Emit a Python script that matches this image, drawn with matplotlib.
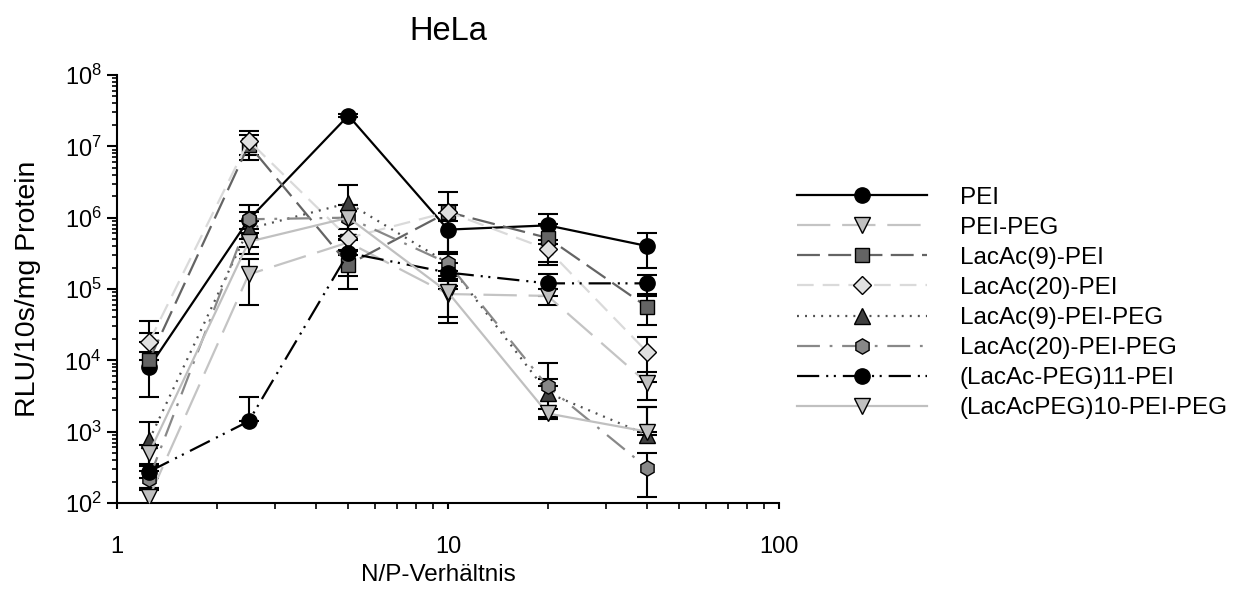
import matplotlib
matplotlib.use("Agg")
import matplotlib.pyplot as plt
import numpy as np
from matplotlib import rcParams

rcParams['font.family'] = ['Liberation Sans', 'DejaVu Sans']
rcParams['lines.scale_dashes'] = False

# N/P ratios
np_ratio = [1.25, 2.5, 5, 10, 20, 40]

series_names = [
    "PEI", "PEI-PEG", "LacAc(9)-PEI", "LacAc(20)-PEI",
    "LacAc(9)-PEI-PEG", "LacAc(20)-PEI-PEG",
    "(LacAc-PEG)11-PEI", "(LacAcPEG)10-PEI-PEG",
]

# luciferase activity (RLU/10s/mg protein) and standard deviations
pei = [8.0e3, 9.4e5, 2.7e7, 6.8e5, 7.8e5, 4.0e5]
pei_err = [4.9e3, 5.5e5, 1.0e6, 5.0e5, 3.5e5, 2.0e5]

pei_peg = [1.2e2, 1.6e5, 4.5e5, 8.5e4, 8.0e4, 4.8e3]
pei_peg_err = [30, 1.0e5, 1.0e5, 5.2e4, 2.0e4, 2.0e3]

lac9_pei = [1.0e4, 1.05e7, 2.2e5, 1.2e6, 5.2e5, 5.6e4]
lac9_pei_err = [1.4e4, 4.0e6, 1.2e5, 3.0e5, 3.0e5, 2.5e4]

lac20_pei = [1.8e4, 1.2e7, 5.2e5, 1.2e6, 3.6e5, 1.3e4]
lac20_pei_err = [1.8e4, 4.5e6, 1.8e5, 1.1e6, 1.2e5, 8.0e3]

lac9_pei_peg = [7.6e2, 7.0e5, 1.6e6, 2.3e5, 3.5e3, 9.0e2]
lac9_pei_peg_err = [6.0e2, 2.0e5, 1.3e6, 1.0e5, 1.9e3, 1.3e3]

lac20_pei_peg = [2.2e2, 9.5e5, 1.0e6, 2.3e5, 4.3e3, 3.1e2]
lac20_pei_peg_err = [60, 2.5e5, 5.0e5, 8.0e4, 5.0e3, 1.9e2]

lacpeg11_pei = [2.75e2, 1.4e3, 3.2e5, 1.7e5, 1.2e5, 1.2e5]
lacpeg11_pei_err = [50, 1.7e3, 1.7e5, 6.0e4, 4.0e4, 3.5e4]

lacpeg10_pei_peg = [5.0e2, 4.6e5, 1.0e6, 9.0e4, 1.8e3, 1.0e3]
lacpeg10_pei_peg_err = [1.5e2, 1.5e5, 5.0e5, 5.0e4, 3.0e2, 1.2e3]

values = [pei, pei_peg, lac9_pei, lac20_pei,
          lac9_pei_peg, lac20_pei_peg, lacpeg11_pei, lacpeg10_pei_peg]
errors = [pei_err, pei_peg_err, lac9_pei_err, lac20_pei_err,
          lac9_pei_peg_err, lac20_pei_peg_err, lacpeg11_pei_err, lacpeg10_pei_peg_err]

# line colour, dash pattern (pt), marker, marker fill
styles = [
    dict(color="#000000", ls="-", marker="o", mfc="#000000"),
    dict(color="#c4c4c4", ls=(0, (24, 8.5)), marker="v", mfc="#c0c0c0"),
    dict(color="#646464", ls=(0, (16.5, 6)), marker="s", mfc="#646464"),
    dict(color="#dadada", ls=(0, (12, 6.5)), marker="D", mfc="#e0e0e0"),
    dict(color="#505050", ls=(0, (1.4, 4.4)), marker="^", mfc="#404040"),
    dict(color="#888888", ls=(0, (16.5, 7, 2, 7)), marker="h", mfc="#888888"),
    dict(color="#000000", ls=(0, (16, 5, 1.5, 4, 1.5, 5)), marker="o", mfc="#000000"),
    dict(color="#c0c0c0", ls="-", marker="v", mfc="#c0c0c0"),
]
marker_sizes = {"o": 11, "v": 11, "s": 10, "D": 9, "^": 11, "h": 11}

fig = plt.figure(figsize=(12.48, 5.94), dpi=100)
ax = fig.add_axes([117 / 1248, 1 - 503 / 594, 662 / 1248, 428 / 594])

handles = []
for i, (name, val, err, st) in enumerate(zip(series_names, values, errors, styles)):
    val = np.array(val)
    err = np.array(err)
    # negative part of an error bar cannot be shown on a log axis
    lower = np.where(err < val, err, 0)
    ax.errorbar(np_ratio, val, yerr=[lower, err], fmt="none", ecolor="black",
                elinewidth=1.5, capsize=7, capthick=1.5, zorder=2 + i * 0.1)
    line, = ax.plot(np_ratio, val, color=st["color"], ls=st["ls"], lw=1.6,
                    marker=st["marker"], ms=marker_sizes[st["marker"]],
                    mfc=st["mfc"], mec="black", mew=1.0,
                    label=name, zorder=3 + i * 0.1)
    handles.append(line)

ax.set_xscale("log")
ax.set_yscale("log")
ax.set_xlim(1, 100)
ax.set_ylim(1e2, 1e8)

for side in ("top", "right"):
    ax.spines[side].set_visible(False)
for side in ("left", "bottom"):
    ax.spines[side].set_linewidth(1.5)

ax.tick_params(axis="y", which="major", length=7, width=1.5, labelsize=17, pad=4)
ax.tick_params(axis="y", which="minor", length=3.5, width=1.2)
ax.tick_params(axis="x", which="major", length=4, width=1.5, labelsize=17, pad=20)
ax.tick_params(axis="x", which="minor", length=4, width=1.2)
ax.xaxis.set_major_formatter(matplotlib.ticker.FuncFormatter(lambda v, p: f"{v:g}"))

ax.set_xlabel("N/P-Verhältnis", fontsize=17.5, va="center")
ax.xaxis.set_label_coords((438 - 117) / 662, (503 - 575) / 428)
ax.set_ylabel("RLU/10s/mg Protein", fontsize=20.5, va="center")
ax.yaxis.set_label_coords((28 - 117) / 662, 0.5)

fig.text(448 / 1248, 1 - 32 / 594, "HeLa", ha="center", va="center", fontsize=23.5)

fig.legend(handles=handles, loc="center left",
           bbox_to_anchor=(797 / 1248, 1 - 303 / 594), bbox_transform=fig.transFigure,
           frameon=False, fontsize=17.5, numpoints=1, handlelength=5.35,
           handletextpad=1.35, labelspacing=0.33, borderpad=0, borderaxespad=0)

fig.savefig("out.png", dpi=100, facecolor="white")
